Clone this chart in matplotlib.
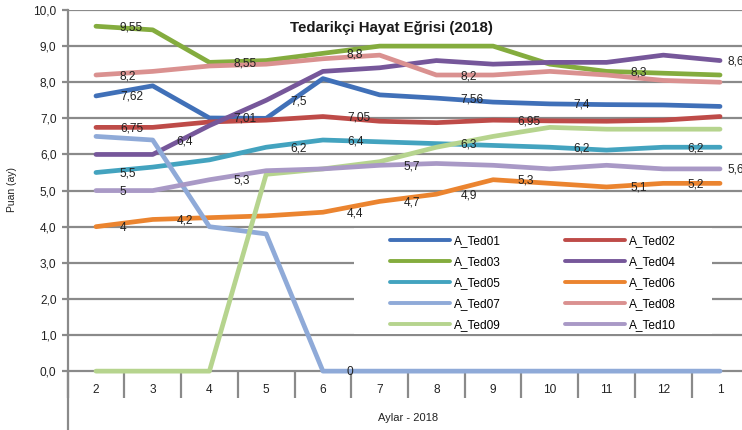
import matplotlib.pyplot as plt
import numpy as np
from matplotlib.lines import Line2D
from matplotlib.patches import Rectangle
from matplotlib.transforms import blended_transform_factory

plt.rcParams['font.family'] = ['Liberation Sans', 'DejaVu Sans']

# Months on the x axis (Feb 2018 .. Jan 2019)
months = ['2', '3', '4', '5', '6', '7', '8', '9', '10', '11', '12', '1']
names = ['A_Ted01', 'A_Ted02', 'A_Ted03', 'A_Ted04', 'A_Ted05',
         'A_Ted06', 'A_Ted07', 'A_Ted08', 'A_Ted09', 'A_Ted10']

# Scores per supplier
ted01 = [7.62, 7.9, 7.01, 7.0, 8.1, 7.65, 7.56, 7.45, 7.4, 7.38, 7.37, 7.33]
ted02 = [6.75, 6.75, 6.9, 6.95, 7.05, 6.92, 6.88, 6.95, 6.93, 6.92, 6.95, 7.05]
ted03 = [9.55, 9.45, 8.55, 8.6, 8.8, 9.0, 9.0, 9.0, 8.5, 8.3, 8.25, 8.2]
ted04 = [6.0, 6.0, 6.8, 7.5, 8.3, 8.4, 8.6, 8.5, 8.55, 8.55, 8.75, 8.6]
ted05 = [5.5, 5.65, 5.85, 6.2, 6.4, 6.35, 6.3, 6.25, 6.2, 6.12, 6.2, 6.2]
ted06 = [4.0, 4.2, 4.25, 4.3, 4.4, 4.7, 4.9, 5.3, 5.2, 5.1, 5.2, 5.2]
ted07 = [6.5, 6.4, 4.0, 3.8, 0, 0, 0, 0, 0, 0, 0, 0]
ted08 = [8.2, 8.3, 8.45, 8.5, 8.65, 8.75, 8.2, 8.2, 8.3, 8.2, 8.05, 8.0]
ted09 = [0, 0, 0, 5.45, 5.6, 5.8, 6.2, 6.5, 6.75, 6.7, 6.7, 6.7]
ted10 = [5.0, 5.0, 5.3, 5.55, 5.6, 5.7, 5.75, 5.7, 5.6, 5.7, 5.6, 5.6]

# which points carry a data label
lab01 = [0, 2, 6, 8]
lab02 = [0, 4, 7]
lab03 = [0, 2, 4, 9]
lab04 = [3, 11]
lab05 = [0, 3, 4, 6, 8, 10]
lab06 = [0, 1, 4, 5, 6, 7, 9, 10]
lab07 = [1, 4]
lab08 = [0, 6]
lab09 = []
lab10 = [0, 2, 5, 11]

series = [ted01, ted02, ted03, ted04, ted05, ted06, ted07, ted08, ted09, ted10]
labels = [lab01, lab02, lab03, lab04, lab05, lab06, lab07, lab08, lab09, lab10]
colors = ['#4070B8', '#BE4B48', '#84AC3E', '#76579A', '#43A3BF',
          '#EB842F', '#8FAAD8', '#DA9190', '#B6D48E', '#A999C6']
gridc = '#8a8a8a'

W, H = 742, 430
fig = plt.figure(figsize=(W / 100, H / 100), dpi=100)
ax = fig.add_axes([67.6 / W, 0, 680.8 / W, 420 / H])

x = np.arange(len(months))
for vals, lab, c in zip(series, labels, colors):
    ax.plot(x, vals, color=c, lw=3.4, solid_capstyle='round',
            solid_joinstyle='round', zorder=3)
    for i in lab:
        dx = 7 if i == len(months) - 1 else 24
        ax.annotate(f"{vals[i]:g}".replace('.', ','), (x[i], vals[i]),
                    xytext=(dx, -1), textcoords='offset pixels',
                    ha='left', va='center', fontsize=8.6, color='#222222',
                    zorder=5, annotation_clip=False)

ax.set_xlim(-0.5, len(months) - 0.5)
ax.set_ylim(-1.63, 10)
ax.set_yticks(range(11))
ax.set_yticklabels([f"{v:.1f}".replace('.', ',') for v in range(11)])
ax.set_xticks([])
ax.tick_params(axis='y', length=4, width=1.6, color=gridc, pad=4,
               labelsize=8.6, labelcolor='#222222')
ax.grid(axis='y', color=gridc, lw=1.6)
ax.set_axisbelow(True)
for s in ['top', 'right', 'bottom']:
    ax.spines[s].set_visible(False)
ax.spines['left'].set_color(gridc)
ax.spines['left'].set_linewidth(1.6)

# category tick marks hanging below the axis line
ax.vlines(np.arange(len(months) + 1) - 0.5, -0.75, 0, color=gridc, lw=1.6,
          clip_on=False, zorder=1)
for i, m in enumerate(months):
    ax.text(i, -0.53, m, ha='center', va='center', fontsize=8.6,
            color='#222222')

# white area behind legend hides the 2 and 3 gridlines
tr = blended_transform_factory(fig.transFigure, ax.transData)
ax.add_patch(Rectangle((354 / W, 1.04), (712 - 354) / W, 2.92, transform=tr,
                       facecolor='white', edgecolor='none', zorder=2.5))

order = [0, 2, 4, 6, 8, 1, 3, 5, 7, 9]
handles = [Line2D([], [], color=colors[k], lw=2.8, solid_capstyle='round')
           for k in order]
ax.legend(handles, [names[k] for k in order], ncol=2, loc='center',
          bbox_to_anchor=(533 / W, 1 - 283 / H), bbox_transform=fig.transFigure,
          frameon=False, fontsize=8.6, handlelength=5, handletextpad=0.35,
          columnspacing=5.4, labelspacing=0.75)

fig.text(391 / W, 1 - 28 / H, 'Tedarikçi Hayat Eğrisi (2018)',
         ha='center', va='center', fontsize=10.8, fontweight='bold',
         color='#1a1a1a')
fig.text(12 / W, 1 - 190 / H, 'Puan (ay)', rotation=90, ha='center',
         va='center', fontsize=7.5, color='#222222')
fig.text(408 / W, 1 - 418 / H, 'Aylar - 2018', ha='center', va='center',
         fontsize=8, color='#222222')

fig.savefig('out.png', dpi=100)
